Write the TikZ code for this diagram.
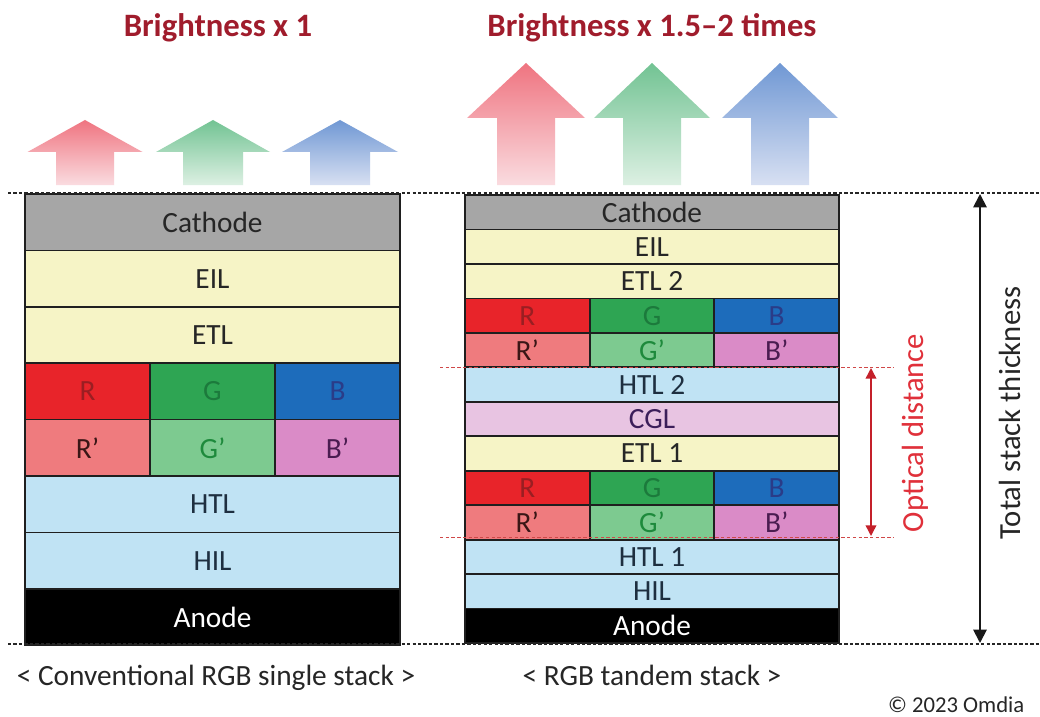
\documentclass[tikz,border=0pt]{standalone}
\usepackage{fontspec}
\setmainfont{Carlito}
\usetikzlibrary{arrows.meta}
\definecolor{cathc}{HTML}{A6A6A6}
\definecolor{ylw}{HTML}{F6F4C6}
\definecolor{rc}{HTML}{E8242A}
\definecolor{gc}{HTML}{2EA553}
\definecolor{bc}{HTML}{1D6CBB}
\definecolor{rpc}{HTML}{EF7B7E}
\definecolor{gpc}{HTML}{7DCA90}
\definecolor{bpc}{HTML}{DA8BC7}
\definecolor{htc}{HTML}{C0E3F4}
\definecolor{cglc}{HTML}{E8C4E2}
\definecolor{txt}{HTML}{262626}
\definecolor{rt}{HTML}{9A1E22}
\definecolor{gt}{HTML}{1C7A3C}
\definecolor{bt}{HTML}{2A3C88}
\definecolor{rpt}{HTML}{3A1616}
\definecolor{gpt}{HTML}{1E8A3C}
\definecolor{bpt}{HTML}{4A1C50}
\definecolor{cglt}{HTML}{3C1E5A}
\definecolor{htt}{HTML}{1E2F40}
\definecolor{titlec}{HTML}{A01C2C}
\definecolor{optc}{HTML}{E0303A}
\definecolor{optarr}{HTML}{C4202A}
\definecolor{optdash}{HTML}{D04848}
\definecolor{arrtopr}{HTML}{EF7480}
\definecolor{arrbotr}{HTML}{FADCE0}
\definecolor{arrtopg}{HTML}{72C393}
\definecolor{arrbotg}{HTML}{DDF0E3}
\definecolor{arrtopb}{HTML}{7098D4}
\definecolor{arrbotb}{HTML}{D8E0F2}
\newcommand\glowarrow[7]{%
  \shade[top color=#6, bottom color=#7]
    ({#1},{#2}) -- ({#1+#4},{#3}) -- ({#1+#5},{#3}) -- ({#1+#5},185)
    -- ({#1-#5},185) -- ({#1-#5},{#3}) -- ({#1-#4},{#3}) -- cycle;}
\tikzset{
  lay/.style={draw=black!88, line width=1.3pt, inner sep=0pt, text=txt,
    font=\fontsize{22}{24}\selectfont},
  lwide/.style={lay, minimum width=281.25pt, minimum height=42.3pt},
  lcell/.style={lay, minimum width=93.75pt, minimum height=42.3pt},
  rwide/.style={lay, minimum width=280.5pt, minimum height=25.85pt},
  rcell/.style={lay, minimum width=93.5pt, minimum height=25.85pt},
  titletext/.style={font=\fontsize{24.5}{26}\selectfont\bfseries, text=titlec},
  captext/.style={font=\fontsize{22}{24}\selectfont, text=txt, anchor=base},
  blackdash/.style={draw=black!85, line width=0.9pt, dash pattern=on 2.5pt off 1.6pt},
  reddash/.style={draw=optdash, line width=0.7pt, dash pattern=on 2.5pt off 1.8pt},
  totarrow/.style={draw=black!90, line width=1.4pt,
    {Triangle[width=10pt,length=10pt]}-{Triangle[width=10pt,length=10pt]}},
  optarrow/.style={draw=optarr, line width=1.1pt,
    {Triangle[width=8pt,length=8pt]}-{Triangle[width=8pt,length=8pt]}},
}
\begin{document}
\begin{tikzpicture}[x=0.75pt,y=-0.75pt]
\useasboundingbox (0,0) rectangle (1040,717);
\fill[white] (0,0) rectangle (1040,717);

% titles
\node[titletext] (t1) at (218,28) {Brightness x 1};
\node[titletext] (t2) at (652,28) {Brightness x 1.5–2 times};

% light arrows, single stack
\glowarrow{85}{120}{152}{57.5}{29}{arrtopr}{arrbotr}
\glowarrow{213}{120}{152}{57}{30}{arrtopg}{arrbotg}
\glowarrow{340}{120}{152}{58}{30}{arrtopb}{arrbotb}
% light arrows, tandem stack
\glowarrow{526}{63}{118}{59}{29}{arrtopr}{arrbotr}
\glowarrow{652}{63}{118}{58}{29}{arrtopg}{arrbotg}
\glowarrow{780}{63}{118}{58}{29}{arrtopb}{arrbotb}

% conventional single stack
\node[lwide, fill=cathc] (lcath) at (212.5,222.2) {Cathode};
\node[lwide, fill=ylw] (leil) at (212.5,278.6) {EIL};
\node[lwide, fill=ylw] (letl) at (212.5,335) {ETL};
\node[lcell, fill=rc, text=rt] (lr) at (87.5,391.4) {R};
\node[lcell, fill=gc, text=gt] (lg) at (212.5,391.4) {G};
\node[lcell, fill=bc, text=bt] (lb) at (337.5,391.4) {B};
\node[lcell, fill=rpc, text=rpt] (lrp) at (87.5,447.8) {R’};
\node[lcell, fill=gpc, text=gpt] (lgp) at (212.5,447.8) {G’};
\node[lcell, fill=bpc, text=bpt] (lbp) at (337.5,447.8) {B’};
\node[lwide, fill=htc, text=htt] (lhtl) at (212.5,504.2) {HTL};
\node[lwide, fill=htc, text=htt] (lhil) at (212.5,560.6) {HIL};
\node[lwide, fill=black, text=white] (lano) at (212.5,617) {Anode};

% tandem stack
\node[rwide, fill=cathc] (rcath) at (652,212.2) {Cathode};
\node[rwide, fill=ylw] (reil) at (652,246.7) {EIL};
\node[rwide, fill=ylw] (retltwo) at (652,281.2) {ETL 2};
\node[rcell, fill=rc, text=rt] (rra) at (527.3,315.6) {R};
\node[rcell, fill=gc, text=gt] (rga) at (652,315.6) {G};
\node[rcell, fill=bc, text=bt] (rba) at (776.7,315.6) {B};
\node[rcell, fill=rpc, text=rpt] (rrpa) at (527.3,350.1) {R’};
\node[rcell, fill=gpc, text=gpt] (rgpa) at (652,350.1) {G’};
\node[rcell, fill=bpc, text=bpt] (rbpa) at (776.7,350.1) {B’};
\node[rwide, fill=htc, text=htt] (rhtltwo) at (652,384.6) {HTL 2};
\node[rwide, fill=cglc, text=cglt] (rcgl) at (652,419) {CGL};
\node[rwide, fill=ylw] (retlone) at (652,453.5) {ETL 1};
\node[rcell, fill=rc, text=rt] (rrb) at (527.3,487.9) {R};
\node[rcell, fill=gc, text=gt] (rgb) at (652,487.9) {G};
\node[rcell, fill=bc, text=bt] (rbb) at (776.7,487.9) {B};
\node[rcell, fill=rpc, text=rpt] (rrpb) at (527.3,522.4) {R’};
\node[rcell, fill=gpc, text=gpt] (rgpb) at (652,522.4) {G’};
\node[rcell, fill=bpc, text=bpt] (rbpb) at (776.7,522.4) {B’};
\node[rwide, fill=htc, text=htt] (rhtlone) at (652,556.9) {HTL 1};
\node[rwide, fill=htc, text=htt] (rhil) at (652,591.3) {HIL};
\node[rwide, fill=black, text=white] (rano) at (652,625.8) {Anode};

% dashed reference lines
\coordinate (dtl) at (8,193);
\coordinate (dtr) at (1040,193);
\coordinate (dbl) at (8,644);
\coordinate (dbr) at (1040,644);
\draw[blackdash] (dtl) -- (dtr);
\draw[blackdash] (dbl) -- (dbr);
\coordinate (oda) at (440,367);
\coordinate (odb) at (893,367);
\coordinate (odc) at (440,537);
\coordinate (odd) at (893,537);
\draw[reddash] (oda) -- (odb);
\draw[reddash] (odc) -- (odd);

% dimension arrows
\coordinate (ttop) at (980,194);
\coordinate (tbot) at (980,643);
\draw[totarrow] (ttop) -- (tbot);
\coordinate (otop) at (871,368);
\coordinate (obot) at (871,536);
\draw[optarrow] (otop) -- (obot);

\node[rotate=90, font=\fontsize{23}{25}\selectfont, text=optc] (optlbl) at (915,433) {Optical distance};
\node[rotate=90, font=\fontsize{23}{25}\selectfont, text=txt] (totlbl) at (1010,413) {Total stack thickness};

% captions
\node[captext] (cap1) at (216,685) {< Conventional RGB single stack >};
\node[captext] (cap2) at (652,685) {< RGB tandem stack >};
\node[font=\fontsize{17}{19}\selectfont, text=txt, anchor=base east] (copy) at (1029,712) {© 2023 Omdia};
\end{tikzpicture}
\end{document}
